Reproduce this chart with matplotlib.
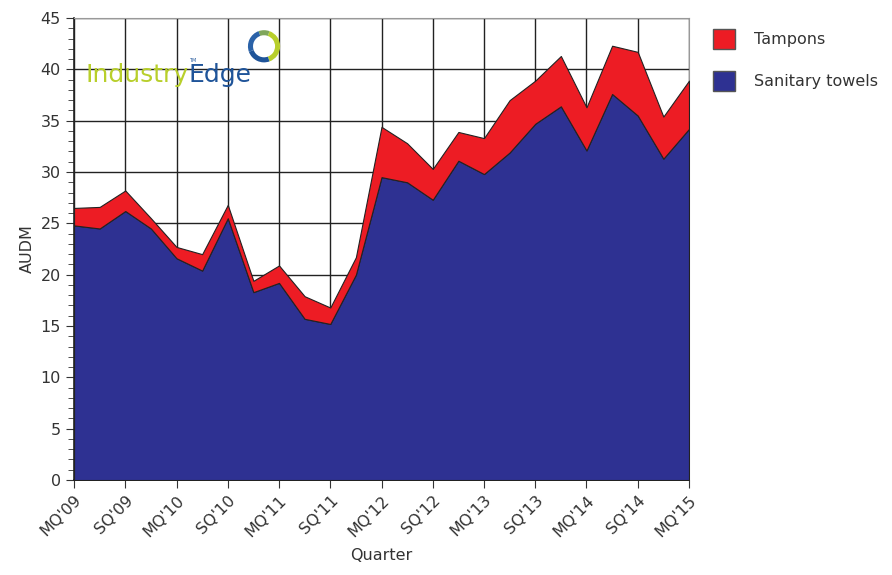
import matplotlib.pyplot as plt
import numpy as np
from matplotlib.patches import Wedge, Patch
from matplotlib.ticker import MultipleLocator

# Quarterly sales, AUD millions (MQ'09 .. MQ'15)
quarters = []
for yr in range(9, 16):
    for q in ['MQ', 'JQ', 'SQ', 'DQ']:
        quarters.append(f"{q}'{yr:02d}")
quarters = quarters[:25]

towels = [24.8, 24.5, 26.2, 24.5, 21.6, 20.4, 25.5, 18.3, 19.2, 15.7, 15.2, 20.0,
          29.5, 29.0, 27.3, 31.1, 29.8, 31.9, 34.7, 36.4, 32.1, 37.6, 35.5, 31.3, 34.2]
total = [26.5, 26.6, 28.2, 25.5, 22.7, 22.0, 26.8, 19.4, 20.9, 17.9, 16.8, 21.7,
         34.4, 32.8, 30.3, 33.9, 33.3, 37.0, 38.9, 41.3, 36.3, 42.3, 41.7, 35.4, 38.9]
tampons = [t - s for t, s in zip(total, towels)]

red = '#ed1c24'
blue = '#2e3192'

fig = plt.figure(figsize=(8.92, 5.75), dpi=100)
ax = fig.add_axes([0.083, 0.1652, 0.6894, 0.8035])

x = np.arange(len(quarters))
ax.stackplot(x, towels, tampons, colors=[blue, red], edgecolor='#222222',
             linewidth=0.8, zorder=3)

ax.set_xlim(0, len(quarters) - 1)
ax.set_ylim(0, 45)
ax.set_xticks(x[::2])
ax.set_xticklabels(quarters[::2], rotation=45, ha='right', rotation_mode='anchor',
                   fontsize=11.5, color='#333333')
ax.yaxis.set_major_locator(MultipleLocator(5))
ax.yaxis.set_minor_locator(MultipleLocator(1))
ax.tick_params(axis='y', labelsize=11.5, labelcolor='#333333', length=6, color='#333333')
ax.tick_params(axis='y', which='minor', length=4, color='#333333')
ax.tick_params(axis='x', length=6, color='#333333', pad=3)

ax.grid(True, color='#222222', linewidth=1.0, zorder=1)
ax.set_axisbelow(True)
for side in ['top', 'right']:
    ax.spines[side].set_color('#999999')
for side in ['left', 'bottom']:
    ax.spines[side].set_color('#222222')
    ax.spines[side].set_linewidth(1.2)

ax.set_ylabel('AUDM', fontsize=11.5, color='#333333', labelpad=4)
ax.set_xlabel('Quarter', fontsize=11.5, color='#333333', labelpad=6)

# logo
t1 = ax.text(0.019, 0.862, 'Industry', transform=ax.transAxes, fontsize=18,
             color='#b8cf2b', zorder=5, va='baseline', ha='left')
ax.annotate('Edge', xy=(1, 0), xycoords=t1, xytext=(0, 0), textcoords='offset points',
            fontsize=18, color='#1f5499', zorder=5, va='bottom', ha='left')
ax.annotate('TM', xy=(1, 1), xycoords=t1, xytext=(0, 0), textcoords='offset points',
            fontsize=3.5, color='#1f5499', zorder=5, va='bottom', ha='left')
ring_ax = fig.add_axes([0.277, 0.89, 0.038, 0.059])
ring_ax.set_xlim(-1, 1)
ring_ax.set_ylim(-1, 1)
ring_ax.set_aspect('equal')
ring_ax.axis('off')
for a0, a1, c in [(-70, 70, '#b8cf2b'), (70, 110, '#7fa65a'), (110, 200, '#2a62a8'),
                  (200, 290, '#1f5499')]:
    ring_ax.add_patch(Wedge((0, 0), 0.95, a0, a1, width=0.3, color=c, lw=0))

handles = [Patch(facecolor=red, edgecolor='#555555', label='Tampons'),
           Patch(facecolor=blue, edgecolor='#555555', label='Sanitary towels')]
fig.legend(handles=handles, loc='upper left', bbox_to_anchor=(0.783, 0.975),
           frameon=False, fontsize=11.5, handlelength=1.4, handleheight=1.6,
           labelspacing=1.35, handletextpad=1.2, labelcolor='#333333')

fig.savefig('out.png', dpi=100)
